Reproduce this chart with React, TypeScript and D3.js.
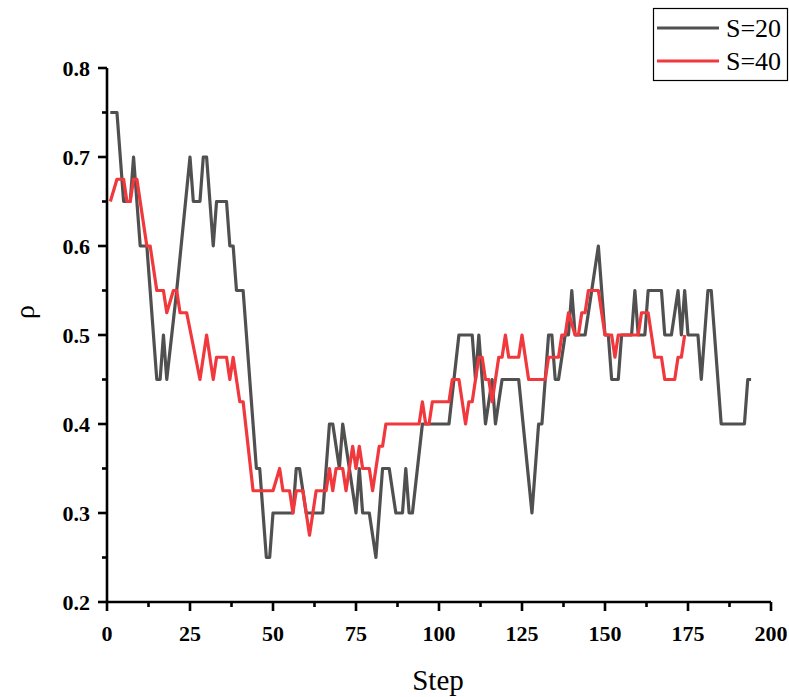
import React from "react";
import * as d3 from "d3";

const seriesNames = ["S=20", "S=40"];
const seriesColors = ["#505050", "#f0383d"];

const s20Steps = [1,3,5,7,8,10,12,15,16,17,18,21,25,26,28,29,30,32,33,36,37,38,39,41,45,46,48,49,50,56,57,58,60,65,67,68,70,71,75,76,77,79,81,83,85,87,89,90,91,92,95,103,106,110,111,112,114,116,117,119,124,128,130,131,133,134,135,136,138,139,140,141,144,148,150,151,152,154,155,158,159,160,162,163,167,168,170,172,173,174,175,178,179,181,182,185,192,193,194];
const s20Values = [0.75,0.75,0.65,0.65,0.7,0.6,0.6,0.45,0.45,0.5,0.45,0.55,0.7,0.65,0.65,0.7,0.7,0.6,0.65,0.65,0.6,0.6,0.55,0.55,0.35,0.35,0.25,0.25,0.3,0.3,0.35,0.35,0.3,0.3,0.4,0.4,0.35,0.4,0.3,0.35,0.3,0.3,0.25,0.35,0.35,0.3,0.3,0.35,0.3,0.3,0.4,0.4,0.5,0.5,0.45,0.5,0.4,0.45,0.4,0.45,0.45,0.3,0.4,0.4,0.5,0.5,0.45,0.45,0.5,0.5,0.55,0.5,0.5,0.6,0.5,0.5,0.45,0.45,0.5,0.5,0.55,0.5,0.5,0.55,0.55,0.5,0.5,0.55,0.5,0.55,0.5,0.5,0.45,0.55,0.55,0.4,0.4,0.45,0.45];

const s40Steps = [1,3,5,6,7,8,9,12,13,15,17,18,20,21,22,24,28,30,32,33,36,37,38,40,41,44,50,52,53,55,56,57,59,61,63,66,67,68,69,71,72,74,75,76,77,79,80,82,83,84,94,95,96,97,98,103,104,106,108,109,110,112,113,114,115,116,118,119,120,121,124,125,127,132,133,136,137,138,139,141,142,143,144,145,148,150,152,153,154,160,161,163,165,167,168,171,172,173,174];
const s40Values = [0.65,0.675,0.675,0.65,0.65,0.675,0.675,0.6,0.6,0.55,0.55,0.525,0.55,0.55,0.525,0.525,0.45,0.5,0.45,0.475,0.475,0.45,0.475,0.425,0.425,0.325,0.325,0.35,0.325,0.325,0.3,0.325,0.325,0.275,0.325,0.325,0.35,0.325,0.35,0.35,0.325,0.375,0.35,0.375,0.35,0.35,0.325,0.375,0.375,0.4,0.4,0.425,0.4,0.4,0.425,0.425,0.45,0.45,0.4,0.425,0.425,0.475,0.475,0.45,0.45,0.425,0.475,0.475,0.5,0.475,0.475,0.5,0.45,0.45,0.475,0.475,0.5,0.5,0.525,0.5,0.5,0.525,0.525,0.55,0.55,0.5,0.5,0.475,0.5,0.5,0.525,0.525,0.475,0.475,0.45,0.45,0.475,0.475,0.5];

const xTicks = [0, 25, 50, 75, 100, 125, 150, 175, 200];
const yTicks = [0.2, 0.3, 0.4, 0.5, 0.6, 0.7, 0.8];

export default function App() {
  const W = 789, H = 697;
  const left = 107, right = 771, top = 68, bottom = 602;
  const x = d3.scaleLinear().domain([0, 200]).range([left, right]);
  const y = d3.scaleLinear().domain([0.2, 0.8]).range([bottom, top]);
  const line = d3.line<[number, number]>().x(d => x(d[0])).y(d => y(d[1]));
  const series = [
    s20Steps.map((s, i) => [s, s20Values[i]] as [number, number]),
    s40Steps.map((s, i) => [s, s40Values[i]] as [number, number]),
  ];
  const xMinor = d3.range(12.5, 200, 25);
  const yMinor = d3.range(0.25, 0.8, 0.1);
  const tf: React.CSSProperties = { fontFamily: "Liberation Serif, DejaVu Serif, serif" };
  return (
    <svg width={W} height={H} style={{ position: "absolute", left: 0, top: 0, background: "#fff" }}>
      <rect x={0} y={0} width={W} height={H} fill="#fff" />
      {series.map((pts, i) => (
        <path key={i} d={line(pts) || ""} fill="none" stroke={seriesColors[i]} strokeWidth={3.2} strokeLinejoin="round" strokeLinecap="butt" />
      ))}
      <line x1={left} x2={left} y1={top} y2={bottom} stroke="#000" strokeWidth={2.6} />
      <line x1={left} x2={right} y1={bottom} y2={bottom} stroke="#000" strokeWidth={2.6} />
      {yTicks.map(t => (
        <g key={"y" + t}>
          <line x1={left - 9} x2={left} y1={y(t)} y2={y(t)} stroke="#000" strokeWidth={2.6} />
          <text x={90} y={y(t)} dy="0.35em" textAnchor="end" fontSize={22} fontWeight="bold" style={tf}>{t.toFixed(1)}</text>
        </g>
      ))}
      {yMinor.map(t => (
        <line key={"ym" + t} x1={left - 5} x2={left} y1={y(t)} y2={y(t)} stroke="#000" strokeWidth={2.6} />
      ))}
      {xTicks.map(t => (
        <g key={"x" + t}>
          <line x1={x(t)} x2={x(t)} y1={bottom} y2={bottom + 9} stroke="#000" strokeWidth={2.6} />
          <text x={x(t)} y={641} textAnchor="middle" fontSize={22} fontWeight="bold" style={tf}>{t}</text>
        </g>
      ))}
      {xMinor.map(t => (
        <line key={"xm" + t} x1={x(t)} x2={x(t)} y1={bottom} y2={bottom + 5} stroke="#000" strokeWidth={2.6} />
      ))}
      <text x={438} y={690} textAnchor="middle" fontSize={29} style={tf}>Step</text>
      <text transform="translate(34,312) rotate(-90)" textAnchor="middle" fontSize={28} style={tf}>ρ</text>
      <rect x={653.5} y={8.5} width={134} height={72} fill="#fff" stroke="#000" strokeWidth={1.2} />
      {seriesNames.map((n, i) => (
        <g key={n}>
          <line x1={657} x2={719} y1={28 + i * 33} y2={28 + i * 33} stroke={seriesColors[i]} strokeWidth={3.2} />
          <text x={726} y={28 + i * 33} dy="0.35em" fontSize={26} style={tf}>{n}</text>
        </g>
      ))}
    </svg>
  );
}
